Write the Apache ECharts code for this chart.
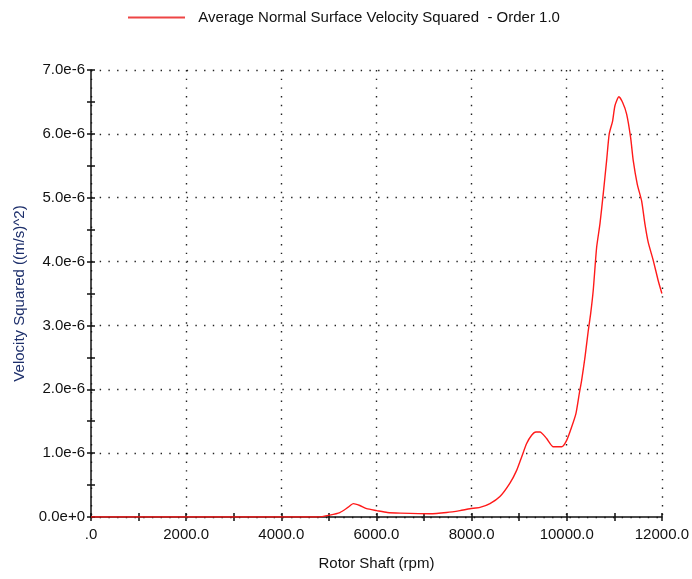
<!DOCTYPE html>
<html>
<head>
<meta charset="utf-8">
<script src="https://cdn.jsdelivr.net/npm/echarts@6/dist/echarts.min.js"></script>
<style>
  html, body { margin: 0; padding: 0; background: #fff; }
  #chart { width: 692px; height: 579px; }
</style>
</head>
<body>
<div id="chart"></div>
<script>
// Order 1.0 response vs rotor shaft speed
const seriesName = 'Average Normal Surface Velocity Squared  - Order 1.0';
const rpm = [0, 4770, 5020, 5230, 5400, 5514, 5650, 5794, 6005, 6228, 6500, 7124, 7475, 7755,
  7965, 8176, 8386, 8596, 8806, 8947, 9052, 9157, 9262, 9353, 9437, 9577, 9717, 9893, 9998,
  10103, 10193, 10263, 10313, 10383, 10453, 10502, 10557, 10628, 10698, 10767, 10838, 10893,
  10964, 11013, 11097, 11175, 11259, 11343, 11398, 11483, 11574, 11643, 11713, 11818, 11923, 12000];
// velocity squared, in units of 1e-6 (m/s)^2
const velSq = [0, 0, 0.03, 0.07, 0.15, 0.21, 0.18, 0.13, 0.10, 0.07, 0.06, 0.05, 0.07, 0.10,
  0.13, 0.15, 0.21, 0.32, 0.53, 0.73, 0.94, 1.15, 1.28, 1.33, 1.33, 1.23, 1.10, 1.10, 1.20,
  1.41, 1.62, 1.93, 2.14, 2.50, 2.92, 3.18, 3.55, 4.22, 4.59, 5.06, 5.58, 6.00,
  6.20, 6.44, 6.58, 6.49, 6.31, 5.94, 5.58, 5.21, 4.95, 4.59, 4.30, 4.02, 3.70, 3.50];
const unit = 1e-6;

const points = rpm.map((r, i) => [r, velSq[i] * unit]);

const font = 'Liberation Sans';
const fs = 15;
const dotted = { color: '#222', width: 1.4, type: [1.4, 7.3] };
const tickStyle = { color: '#111', width: 1.5 };

const chart = echarts.init(document.getElementById('chart'));
chart.setOption({
  animation: false,
  textStyle: { fontFamily: font },
  legend: {
    top: 5, left: 123,
    itemWidth: 57, itemHeight: 14,
    icon: 'path://M0,6H57V8H0Z',
    formatter: n => '  ' + n,
    textStyle: { fontFamily: font, fontSize: fs, color: '#111' },
    data: [{ name: seriesName, itemStyle: { color: '#ee4545' } }]
  },
  grid: { left: 91, right: 30, top: 70, bottom: 62, containLabel: false },
  xAxis: [{
    type: 'value', min: 0, max: 12000, interval: 2000,
    name: 'Rotor Shaft (rpm)', nameLocation: 'middle', nameGap: 39,
    nameTextStyle: { fontFamily: font, fontSize: fs, color: '#111' },
    axisLine: { show: true, lineStyle: { color: '#111', width: 1.5 } },
    axisTick: { show: true, length: 4, lineStyle: tickStyle },
    minorTick: { show: true, splitNumber: 2, length: 4, lineStyle: tickStyle },
    axisLabel: { margin: 10, fontFamily: font, fontSize: fs, color: '#111',
      formatter: v => v === 0 ? '.0' : v.toFixed(1) },
    splitLine: { show: true, lineStyle: dotted }
  }, {
    type: 'value', min: 0, max: 12000, interval: 2000, position: 'bottom',
    axisLine: { show: false },
    axisTick: { show: true, inside: true, length: 4, lineStyle: tickStyle },
    minorTick: { show: true, splitNumber: 2, length: 4, lineStyle: tickStyle },
    axisLabel: { show: false },
    splitLine: { show: false }
  }],
  yAxis: [{
    type: 'value', min: 0, max: 7e-6, interval: 1e-6,
    name: 'Velocity Squared ((m/s)^2)', nameLocation: 'middle', nameGap: 64,
    nameTextStyle: { fontFamily: font, fontSize: fs, color: '#1d2f6b' },
    axisLine: { show: true, lineStyle: { color: '#111', width: 1.5 } },
    axisTick: { show: true, length: 4, lineStyle: tickStyle },
    minorTick: { show: true, splitNumber: 2, length: 4, lineStyle: tickStyle },
    axisLabel: { margin: 6, fontFamily: font, fontSize: fs, color: '#111',
      formatter: v => (Math.round(v / unit * 10) / 10 * unit).toExponential(1) },
    splitLine: { show: true, lineStyle: dotted }
  }, {
    type: 'value', min: 0, max: 7e-6, interval: 1e-6, position: 'left',
    axisLine: { show: false },
    axisTick: { show: true, inside: true, length: 4, lineStyle: tickStyle },
    minorTick: { show: true, splitNumber: 2, length: 4, lineStyle: tickStyle },
    axisLabel: { show: false },
    splitLine: { show: false }
  }],
  series: [{
    name: seriesName,
    type: 'line',
    data: points,
    xAxisIndex: 0, yAxisIndex: 0,
    showSymbol: false,
    smooth: 0.2,
    lineStyle: { color: '#ff1a1a', width: 1.4 },
    itemStyle: { color: '#ff1a1a' },
    z: 5
  }]
});
</script>
</body>
</html>
